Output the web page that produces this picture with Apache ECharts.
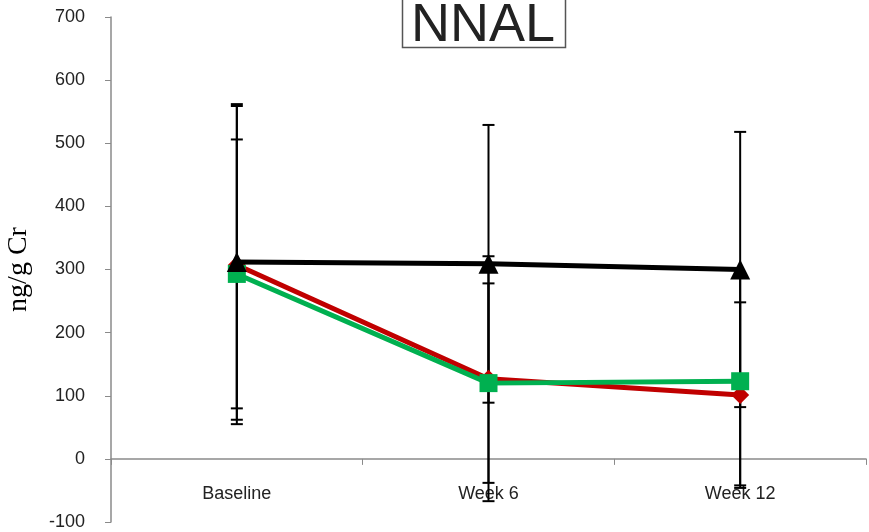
<!DOCTYPE html>
<html><head><meta charset="utf-8">
<script src="https://cdn.jsdelivr.net/npm/echarts@6/dist/echarts.min.js"></script>
<style>html,body{margin:0;padding:0;background:#fff}#c{width:869px;height:532px}</style>
</head><body><div id="c"></div>
<script>
var categories = ['Baseline', 'Week 6', 'Week 12'];
var blackMeans = [312, 309, 300];
var redMeans = [307, 127, 101];
var greenMeans = [293, 120, 123];
var blackSD = [250, 220, 218];
var redSD = [252, 194, 147];
var greenSD = [213, 158, 165];
var yTicks = [-100, 0, 100, 200, 300, 400, 500, 600, 700];

function errData(means, sd) {
  return means.map(function (m, i) { return [i, m - sd[i], m + sd[i]]; });
}
function errSeries(means, sd) {
  return {
    type: 'custom', z: 1, silent: true,
    data: errData(means, sd),
    renderItem: function (params, api) {
      var lo = api.coord([api.value(0), api.value(1)]);
      var hi = api.coord([api.value(0), api.value(2)]);
      var w = 6;
      var st = { stroke: '#000', lineWidth: 2 };
      return { type: 'group', children: [
        { type: 'line', shape: { x1: hi[0], y1: hi[1], x2: lo[0], y2: lo[1] }, style: st },
        { type: 'line', shape: { x1: hi[0] - w, y1: hi[1], x2: hi[0] + w, y2: hi[1] }, style: st },
        { type: 'line', shape: { x1: lo[0] - w, y1: lo[1], x2: lo[0] + w, y2: lo[1] }, style: st }
      ]};
    }
  };
}
var chart = echarts.init(document.getElementById('c'));
chart.setOption({
  animation: false,
  title: {
    text: 'NNAL', left: 411, top: 0, padding: 0,
    textStyle: { fontFamily: 'Liberation Sans', fontSize: 54, fontWeight: 'normal', color: '#222', lineHeight: 52 }
  },
  graphic: [{
    type: 'rect', left: 400, top: -4, silent: true,
    shape: { width: 163, height: 49 },
    style: { fill: 'none', stroke: '#555', lineWidth: 1.5 }
  }],
  grid: { left: 111, right: 3, top: 17, bottom: 10, containLabel: false, outerBoundsMode: 'none' },
  xAxis: {
    type: 'category', data: categories, boundaryGap: true,
    axisLine: { onZero: true, lineStyle: { color: '#8a8a8a', width: 1.5 } },
    axisTick: { show: true, length: 6, lineStyle: { color: '#8a8a8a' } },
    axisLabel: { margin: -37, fontFamily: 'Liberation Sans', fontSize: 18, color: '#222' },
    splitLine: { show: false }
  },
  yAxis: {
    type: 'value', min: -100, max: 700, interval: 100,
    name: 'ng/g Cr', nameLocation: 'middle', nameGap: 78, nameRotate: 90,
    nameTextStyle: { fontFamily: 'Liberation Serif', fontSize: 28, color: '#000' },
    axisLine: { show: true, lineStyle: { color: '#8a8a8a', width: 1.5 } },
    axisTick: { show: true, length: 6, lineStyle: { color: '#8a8a8a' } },
    axisLabel: { margin: 26, fontFamily: 'Liberation Sans', fontSize: 18, color: '#222',
      formatter: function (v) { return yTicks.indexOf(v) >= 0 ? String(v) : ''; } },
    splitLine: { show: false }
  },
  series: [
    errSeries(blackMeans, blackSD),
    errSeries(redMeans, redSD),
    errSeries(greenMeans, greenSD),
    { type: 'line', data: redMeans, z: 3, symbol: 'diamond', symbolSize: 18,
      lineStyle: { color: '#C00000', width: 5 }, itemStyle: { color: '#C00000' } },
    { type: 'line', data: greenMeans, z: 4, symbol: 'rect', symbolSize: 18,
      lineStyle: { color: '#00B050', width: 5 }, itemStyle: { color: '#00B050' } },
    { type: 'line', data: blackMeans, z: 5, symbol: 'triangle', symbolSize: 20,
      lineStyle: { color: '#000', width: 5 }, itemStyle: { color: '#000' } }
  ]
});
</script></body></html>
